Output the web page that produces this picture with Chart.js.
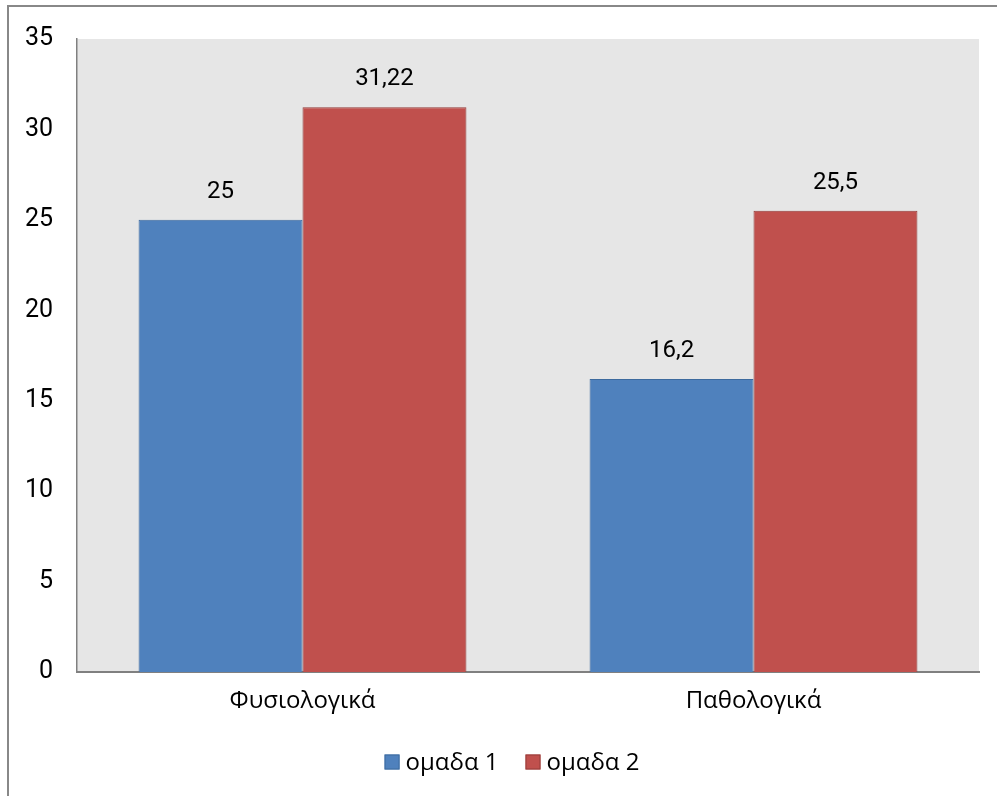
<!DOCTYPE html>
<html>
<head>
<meta charset="utf-8">
<script src="https://cdn.jsdelivr.net/npm/chart.js@4"></script>
<style>
    html, body { margin: 0; padding: 0; background: #fff; }
    #wrap { width: 997px; height: 796px; }
</style>
</head>
<body>
<div id="wrap"><canvas id="groupChart" width="997" height="796"></canvas></div>
<script>
// Categories and series values
const categories = ['Φυσιολογικά', 'Παθολογικά'];
const group1 = [25, 16.2];
const group2 = [31.22, 25.5];
const seriesNames = ['ομαδα 1', 'ομαδα 2'];
const yTicks = [0, 5, 10, 15, 20, 25, 30, 35];

const NUM_FONT = 'Roboto, "Noto Sans", sans-serif';
const TEXT_FONT = '"Open Sans", "Noto Sans", sans-serif';

// Grey plot background + outer frame
const frameAndBackground = {
    id: 'frameAndBackground',
    beforeDraw(chart) {
        const { ctx, chartArea } = chart;
        ctx.save();
        ctx.fillStyle = '#e6e6e6';
        ctx.fillRect(chartArea.left, chartArea.top,
            chartArea.right - chartArea.left, chartArea.bottom - chartArea.top);
        ctx.strokeStyle = '#888888';
        ctx.lineWidth = 2;
        ctx.strokeRect(8, 6, 1100, 900);
        ctx.restore();
    }
};

// Value labels above each bar (comma decimal)
const valueLabels = {
    id: 'valueLabels',
    afterDatasetsDraw(chart) {
        const { ctx } = chart;
        ctx.save();
        ctx.fillStyle = '#000';
        ctx.font = '24px ' + NUM_FONT;
        ctx.textAlign = 'center';
        ctx.textBaseline = 'middle';
        chart.data.datasets.forEach((ds, i) => {
            chart.getDatasetMeta(i).data.forEach((bar, j) => {
                const txt = String(ds.data[j]).replace('.', ',');
                ctx.fillText(txt, bar.x, bar.y - 28);
            });
        });
        ctx.restore();
    }
};

// Legend row under the axis: small bordered squares with tight text gap
const bottomLegend = {
    id: 'bottomLegend',
    afterDraw(chart) {
        const { ctx } = chart;
        const y = 762, box = 15, gapText = 6, gapItem = 27;
        ctx.save();
        ctx.font = '24px ' + TEXT_FONT;
        ctx.textBaseline = 'middle';
        const items = chart.data.datasets.map(ds => ({
            label: ds.label, fill: ds.backgroundColor, stroke: ds.borderColor,
            w: box + gapText + ctx.measureText(ds.label).width
        }));
        const total = items.reduce((s, it) => s + it.w, 0) + gapItem * (items.length - 1);
        let x = 512 - total / 2;
        items.forEach(it => {
            ctx.fillStyle = it.fill;
            ctx.fillRect(x, y - box / 2, box, box);
            ctx.strokeStyle = it.stroke;
            ctx.lineWidth = 1;
            ctx.strokeRect(x + 0.5, y - box / 2 + 0.5, box - 1, box - 1);
            ctx.fillStyle = '#000';
            ctx.fillText(it.label, x + box + gapText, y + 1);
            x += it.w + gapItem;
        });
        ctx.restore();
    }
};

new Chart(document.getElementById('groupChart').getContext('2d'), {
    type: 'bar',
    data: {
        labels: categories,
        datasets: [
            {
                label: seriesNames[0],
                data: group1,
                backgroundColor: '#4f81bd',
                borderColor: '#3d6a9e',
                borderWidth: 1,
                categoryPercentage: 0.727,
                barPercentage: 1.0
            },
            {
                label: seriesNames[1],
                data: group2,
                backgroundColor: '#c0504d',
                borderColor: '#953c3a',
                borderWidth: 1,
                categoryPercentage: 0.727,
                barPercentage: 1.0
            }
        ]
    },
    options: {
        responsive: false,
        animation: false,
        layout: { padding: { top: 36, right: 18, left: 0, bottom: 66 } },
        plugins: {
            legend: { display: false },
            tooltip: { enabled: false }
        },
        scales: {
            x: {
                grid: { display: false, drawTicks: false },
                border: { display: true, color: '#808080', width: 2 },
                ticks: {
                    color: '#000',
                    padding: 15,
                    font: { family: TEXT_FONT, size: 24 }
                },
                afterFit(scale) { scale.height = 58; }
            },
            y: {
                min: 0,
                max: 35,
                afterBuildTicks(scale) {
                    scale.ticks = yTicks.map(v => ({ value: v }));
                },
                grid: { display: false, drawTicks: false },
                border: { display: true, color: '#808080', width: 1.5 },
                ticks: {
                    color: '#000',
                    padding: 24,
                    font: { family: NUM_FONT, size: 25 }
                },
                afterFit(scale) { scale.width = 77; }
            }
        }
    },
    plugins: [frameAndBackground, valueLabels, bottomLegend]
});
</script>
</body>
</html>
